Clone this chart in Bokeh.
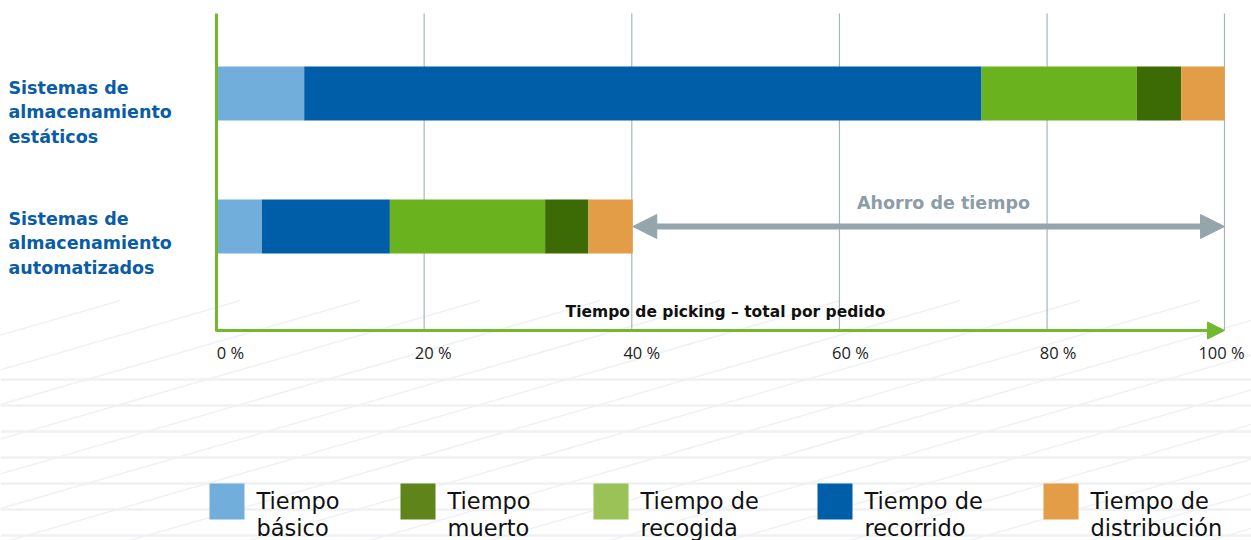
from bokeh.plotting import figure
from bokeh.models import Range1d, Arrow, NormalHead, ColumnDataSource
from bokeh.core.properties import value
from bokeh.embed import file_html
from bokeh.resources import INLINE

# ---------------- data ----------------
categories = ["Sistemas de\nalmacenamiento\nestáticos", "Sistemas de\nalmacenamiento\nautomatizados"]
segments = ["Tiempo básico", "Tiempo de recorrido", "Tiempo de recogida", "Tiempo muerto", "Tiempo de distribución"]
estaticos = [8.7, 67.2, 15.4, 4.4, 4.3]
automatizados = [4.5, 12.7, 15.4, 4.3, 4.4]
bar_colors = ["#72AEDB", "#005EA8", "#6AB21E", "#3C6B06", "#E39D46"]
tick_labels = ["0 %", "20 %", "40 %", "60 %", "80 %", "100 %"]
# where the reference draws its (schematic, not strictly linear) grid lines
tick_pos = [0, 20.6, 41.2, 61.8, 82.4, 100]
legend_labels = ["Tiempo\nbásico", "Tiempo\nmuerto", "Tiempo de\nrecogida", "Tiempo de\nrecorrido", "Tiempo de\ndistribución"]
legend_colors = ["#72AEDB", "#5E841A", "#9BC256", "#005EA8", "#E39D46"]
axis_title = "Tiempo de picking – total por pedido"
saving_label = "Ahorro de tiempo"

# ---------------- layout helpers ----------------
W, H = 1251, 540
X0, PX = 216.0, 10.08          # screen px of 0 %, px per %
def dx(px):
    return (px - X0) / PX

p = figure(width=W, height=H, output_backend="svg", toolbar_location=None,
           x_range=Range1d(dx(0), dx(W)), y_range=Range1d(H, 0),
           min_border=0, min_border_left=0, min_border_right=0,
           min_border_top=0, min_border_bottom=0)
p.axis.visible = False
p.grid.visible = False
p.outline_line_color = None
p.background_fill_color = "white"
p.border_fill_color = "white"

# faint background pattern
bg_y = [379, 405, 431, 457, 483, 509, 535]
p.segment(x0=[dx(0)] * len(bg_y), x1=[dx(W)] * len(bg_y), y0=bg_y, y1=bg_y,
          line_color="#EFF1F2", line_width=2.5)
diag_x = list(range(-900, 1300, 120))
p.segment(x0=[dx(x) for x in diag_x], y0=[560] * len(diag_x),
          x1=[dx(x + 900) for x in diag_x], y1=[300] * len(diag_x),
          line_color="#EFF1F3", line_width=1.5)

# grid lines
p.segment(x0=tick_pos[1:], x1=tick_pos[1:], y0=[13] * 5, y1=[330] * 5,
          line_color="#A9B5BB", line_width=1.2)

# stacked bars
bar_y = [93, 226]
for row, yc in zip([estaticos, automatizados], bar_y):
    left = 0.0
    lefts, rights = [], []
    for v in row:
        lefts.append(left)
        left += v
        rights.append(left)
    src = ColumnDataSource(dict(l=lefts, r=rights, y=[yc] * len(row), c=bar_colors))
    p.hbar(y="y", left="l", right="r", height=54, color="c", source=src, line_width=0)

# green axes
p.segment(x0=[0], x1=[0], y0=[13], y1=[331], line_color="#72B92D", line_width=3)
p.add_layout(Arrow(end=NormalHead(size=17, fill_color="#72B92D", line_color="#72B92D"),
                   x_start=0, y_start=330, x_end=100, y_end=330,
                   line_color="#72B92D", line_width=3))

# savings arrow
total_auto = sum(automatizados)
p.add_layout(Arrow(start=NormalHead(size=24, fill_color="#95A5AC", line_color="#95A5AC"),
                   end=NormalHead(size=24, fill_color="#95A5AC", line_color="#95A5AC"),
                   x_start=total_auto, y_start=226, x_end=100, y_end=226,
                   line_color="#95A5AC", line_width=6))
p.text(x=[dx(943)], y=[202], text=[saving_label],
       text_font=value("DejaVu Sans"), text_font_style="bold", text_font_size="17.5px",
       text_color="#8C9DA5", text_align="center", text_baseline="middle")

# category labels
p.text(x=[dx(8)] * 2, y=[112, 243], text=categories,
       text_font=value("DejaVu Sans"), text_font_style="bold", text_font_size="17.5px",
       text_color="#0A5CA6", text_align="left", text_baseline="middle",
       text_line_height=1.23)

# tick labels
p.text(x=tick_pos, y=[352] * 6, text=tick_labels, x_offset=[14, 9, 10, 11, 11, -3],
       text_font=value("Open Sans"), text_font_size="16.5px", text_color="#222222",
       text_align="center", text_baseline="middle")

# axis title
p.text(x=[dx(725)], y=[311], text=[axis_title],
       text_font=value("DejaVu Sans"), text_font_style="bold", text_font_size="15.5px",
       text_color="#111111", text_align="center", text_baseline="middle")

# legend
leg_px = [209, 400, 593, 817, 1043]
p.rect(x=[dx(px + 17.5) for px in leg_px], y=[501] * 5, width=35, height=36,
       width_units="screen", height_units="screen", color=legend_colors, line_width=0)
p.text(x=[dx(px + 47) for px in leg_px], y=[514] * 5, text=legend_labels,
       text_font=value("DejaVu Sans"), text_font_size="22.5px", text_color="#111111",
       text_align="left", text_baseline="middle", text_line_height=1.05)

open("out.html", "w").write(file_html(p, INLINE))
